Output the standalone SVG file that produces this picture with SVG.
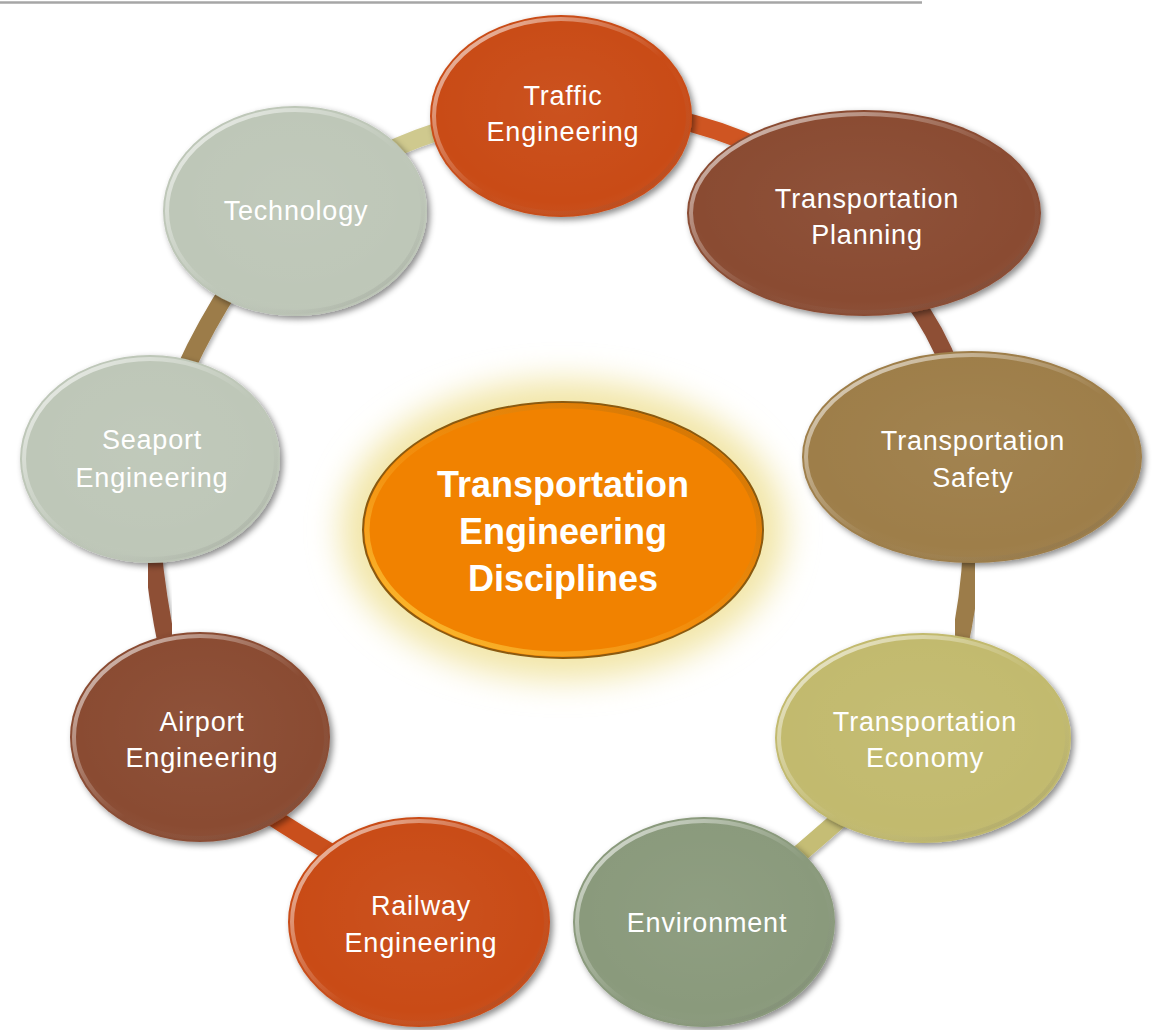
<svg xmlns="http://www.w3.org/2000/svg" width="1160" height="1030" viewBox="0 0 1160 1030">
  <defs>
    <filter id="shadow" x="-20%" y="-20%" width="140%" height="140%">
      <feDropShadow dx="3" dy="3" stdDeviation="3" flood-color="#000" flood-opacity="0.45"/>
    </filter>
    <filter id="cshadow" x="-20%" y="-20%" width="140%" height="140%">
      <feDropShadow dx="2" dy="2" stdDeviation="2" flood-color="#000" flood-opacity="0.3"/>
    </filter>
    <filter id="glow" x="-30%" y="-30%" width="160%" height="160%">
      <feGaussianBlur stdDeviation="16"/>
    </filter>
    <linearGradient id="rim" x1="0" y1="0" x2="1" y2="1">
      <stop offset="0" stop-color="#fff" stop-opacity="0.75"/>
      <stop offset="0.35" stop-color="#fff" stop-opacity="0.25"/>
      <stop offset="0.55" stop-color="#fff" stop-opacity="0"/>
      <stop offset="1" stop-color="#000" stop-opacity="0.15"/>
    </linearGradient>
    <radialGradient id="shade" cx="0.5" cy="0.45" r="0.6">
      <stop offset="0" stop-color="#fff" stop-opacity="0.04"/>
      <stop offset="0.8" stop-color="#fff" stop-opacity="0"/>
      <stop offset="1" stop-color="#000" stop-opacity="0.08"/>
    </radialGradient>
    <linearGradient id="centerRim" x1="0" y1="1" x2="1" y2="0">
      <stop offset="0" stop-color="#ffd040" stop-opacity="0.95"/>
      <stop offset="0.45" stop-color="#f5a020" stop-opacity="0.4"/>
      <stop offset="1" stop-color="#b06000" stop-opacity="0.6"/>
    </linearGradient>
    <style>
      .node { filter: url(#shadow); }
      .rim { fill: none; stroke: url(#rim); stroke-width: 4; }
      .shade { fill: url(#shade); }
      .lbl { font-family: "Liberation Sans", Arial, sans-serif; font-size: 27px; letter-spacing: 0.8px; fill: #ffffff; text-anchor: middle; }
      .title { font-family: "Liberation Sans", Arial, sans-serif; font-size: 36px; font-weight: bold; fill: #ffffff; text-anchor: middle; }
      .conn { fill: none; stroke-width: 18; stroke-linecap: butt; filter: url(#cshadow); }
    </style>
  </defs>

  <rect x="0" y="0" width="1160" height="1030" fill="#ffffff"/>
  <line x1="0" y1="2.5" x2="922" y2="2.5" stroke="#a6a6a6" stroke-width="2.5"/>

  <g id="connectors">
    <path class="conn" stroke="#cfc98e" d="M 380 155 Q 418 136 455 127"/>
    <path class="conn" stroke="#cf5520" d="M 670 118 Q 718 128 765 150"/>
    <path class="conn" stroke="#8e4f36" d="M 910 295 Q 936 330 952 372"/>
    <path class="conn" stroke="#9c7c48" d="M 972 545 Q 970 598 958 650"/>
    <path class="conn" stroke="#c5bd75" d="M 850 810 Q 818 838 790 862"/>
    <path class="conn" stroke="#9aa78c" d="M 530 937 L 595 937"/>
    <path class="conn" stroke="#c94f1c" d="M 265 812 Q 298 834 335 855"/>
    <path class="conn" stroke="#8e4f36" d="M 152 545 Q 157 598 168 650"/>
    <path class="conn" stroke="#9c7c48" d="M 185 370 Q 205 326 235 280"/>
  </g>

  <g id="center">
    <ellipse cx="563" cy="530" rx="222" ry="150" fill="#f2e6a8" filter="url(#glow)"/>
    <ellipse cx="563" cy="530" rx="200" ry="128" fill="#f18200" stroke="#8a5a10" stroke-width="2"/>
    <ellipse cx="563" cy="530" rx="196" ry="124" fill="none" stroke="url(#centerRim)" stroke-width="5"/>
    <text class="title" x="563" y="497">Transportation</text>
    <text class="title" x="563" y="544">Engineering</text>
    <text class="title" x="563" y="591">Disciplines</text>
  </g>

  <g id="traffic-engineering">
    <ellipse class="node" cx="561" cy="116" rx="131" ry="101" fill="#c94c17"/>
    <ellipse class="shade" cx="561" cy="116" rx="131" ry="101"/>
    <ellipse class="rim" cx="561" cy="116" rx="127" ry="97"/>
    <text class="lbl" x="563" y="105">Traffic</text>
    <text class="lbl" x="563" y="141">Engineering</text>
  </g>

  <g id="transportation-planning">
    <ellipse class="node" cx="864" cy="213" rx="177" ry="103" fill="#8a4b33"/>
    <ellipse class="shade" cx="864" cy="213" rx="177" ry="103"/>
    <ellipse class="rim" cx="864" cy="213" rx="173" ry="99"/>
    <text class="lbl" x="867" y="208">Transportation</text>
    <text class="lbl" x="867" y="244">Planning</text>
  </g>

  <g id="transportation-safety">
    <ellipse class="node" cx="972" cy="457" rx="170" ry="106" fill="#9e7e4a"/>
    <ellipse class="shade" cx="972" cy="457" rx="170" ry="106"/>
    <ellipse class="rim" cx="972" cy="457" rx="166" ry="102"/>
    <text class="lbl" x="973" y="450">Transportation</text>
    <text class="lbl" x="973" y="487">Safety</text>
  </g>

  <g id="transportation-economy">
    <ellipse class="node" cx="923" cy="738" rx="148" ry="105" fill="#c2ba6e"/>
    <ellipse class="shade" cx="923" cy="738" rx="148" ry="105"/>
    <ellipse class="rim" cx="923" cy="738" rx="144" ry="101"/>
    <text class="lbl" x="925" y="731">Transportation</text>
    <text class="lbl" x="925" y="767">Economy</text>
  </g>

  <g id="environment">
    <ellipse class="node" cx="704" cy="922" rx="131" ry="105" fill="#8a9a7c"/>
    <ellipse class="shade" cx="704" cy="922" rx="131" ry="105"/>
    <ellipse class="rim" cx="704" cy="922" rx="127" ry="101"/>
    <text class="lbl" x="707" y="932">Environment</text>
  </g>

  <g id="railway-engineering">
    <ellipse class="node" cx="419" cy="922" rx="131" ry="105" fill="#c94c17"/>
    <ellipse class="shade" cx="419" cy="922" rx="131" ry="105"/>
    <ellipse class="rim" cx="419" cy="922" rx="127" ry="101"/>
    <text class="lbl" x="421" y="915">Railway</text>
    <text class="lbl" x="421" y="952">Engineering</text>
  </g>

  <g id="airport-engineering">
    <ellipse class="node" cx="200" cy="737" rx="130" ry="105" fill="#8a4b33"/>
    <ellipse class="shade" cx="200" cy="737" rx="130" ry="105"/>
    <ellipse class="rim" cx="200" cy="737" rx="126" ry="101"/>
    <text class="lbl" x="202" y="731">Airport</text>
    <text class="lbl" x="202" y="767">Engineering</text>
  </g>

  <g id="seaport-engineering">
    <ellipse class="node" cx="150" cy="459" rx="130" ry="104" fill="#bec7b8"/>
    <ellipse class="shade" cx="150" cy="459" rx="130" ry="104"/>
    <ellipse class="rim" cx="150" cy="459" rx="126" ry="100"/>
    <text class="lbl" x="152" y="449">Seaport</text>
    <text class="lbl" x="152" y="487">Engineering</text>
  </g>

  <g id="technology">
    <ellipse class="node" cx="295" cy="211" rx="132" ry="105" fill="#bec7b8"/>
    <ellipse class="shade" cx="295" cy="211" rx="132" ry="105"/>
    <ellipse class="rim" cx="295" cy="211" rx="128" ry="101"/>
    <text class="lbl" x="296" y="220">Technology</text>
  </g>
</svg>
